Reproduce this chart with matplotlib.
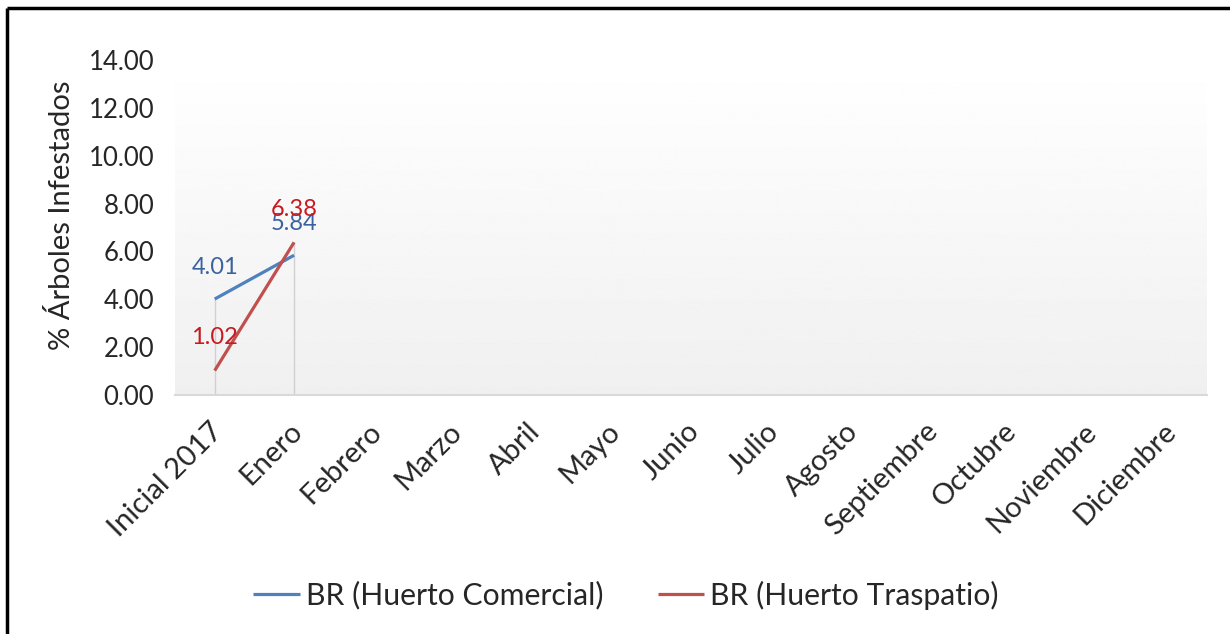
import numpy as np
import matplotlib
matplotlib.use("Agg")
import matplotlib.pyplot as plt
from matplotlib.lines import Line2D
from matplotlib.transforms import ScaledTranslation

categories = ["Inicial 2017", "Enero", "Febrero", "Marzo", "Abril", "Mayo", "Junio",
              "Julio", "Agosto", "Septiembre", "Octubre", "Noviembre", "Diciembre"]
comercial = [4.01, 5.84]
traspatio = [1.02, 6.38]
series_names = ["BR (Huerto Comercial)", "BR (Huerto Traspatio)"]
y_ticks = [0, 2, 4, 6, 8, 10, 12, 14]

plt.rcParams['font.family'] = ['Lato', 'DejaVu Sans']

W, H = 1230, 634
fig = plt.figure(figsize=(W / 100, H / 100), dpi=100)
fig.patch.set_facecolor('white')

# outer frame (top and left visible)
fig.add_artist(Line2D([7 / W, 7 / W], [0, 1 - 8 / H], transform=fig.transFigure,
                      color='black', lw=2.5, solid_capstyle='butt'))
fig.add_artist(Line2D([7 / W, 1], [1 - 8 / H, 1 - 8 / H], transform=fig.transFigure,
                      color='black', lw=2.5, solid_capstyle='butt'))

left, right, top, bottom = 175, 1207, 60, 395
ax = fig.add_axes([left / W, 1 - bottom / H, (right - left) / W, (bottom - top) / H])

# gradient background
grad = np.linspace(1.0, 0.94, 256).reshape(-1, 1)
ax.imshow(grad, extent=[0, 1, 0, 1], transform=ax.transAxes, cmap='gray',
          vmin=0, vmax=1, aspect='auto', zorder=0, interpolation='bilinear')

x = np.arange(len(categories))
n = len(comercial)
tops = [max(a, b) for a, b in zip(comercial, traspatio)]
ax.vlines(x[:n], 0, tops, color='#d0d0d0', lw=1.0, zorder=1)

blue = '#4F81BD'
red = '#C0504D'
ax.plot(x[:n], comercial, color=blue, lw=2.3, zorder=3, label=series_names[0],
        solid_capstyle='butt')
ax.plot(x[:n], traspatio, color=red, lw=2.3, zorder=3, label=series_names[1],
        solid_capstyle='butt')

for xi, v in zip(x[:n], comercial):
    ax.annotate(f"{v:.2f}", (xi, v), xytext=(0, 23), textcoords='offset points',
                ha='center', va='center', fontsize=17, color='#3A62A0', zorder=4)
for xi, v in zip(x[:n], traspatio):
    ax.annotate(f"{v:.2f}", (xi, v), xytext=(0, 24), textcoords='offset points',
                ha='center', va='center', fontsize=17, color='#C8191E', zorder=4)

ax.set_xlim(-0.5, len(categories) - 0.5)
ax.set_ylim(0, 14)
ax.set_yticks(y_ticks)
ax.set_yticklabels([f"{t:.2f}" for t in y_ticks], fontsize=18.5, color='#262626')
ax.set_xticks(x)
ax.set_xticklabels([])
ax.tick_params(axis='y', length=0, pad=15)
ax.tick_params(axis='x', length=0)

# category labels, rotated 45 degrees, anchored at their top-right corner
lbl_trans = ax.get_xaxis_transform() + ScaledTranslation(-5 / 100, -23 / 100, fig.dpi_scale_trans)
for xi, cat in zip(x, categories):
    ax.text(xi, 0, cat, transform=lbl_trans, fontsize=21, color='#262626',
            rotation=45, ha='right', va='top', rotation_mode='anchor', clip_on=False)

for s in ['top', 'right', 'left']:
    ax.spines[s].set_visible(False)
ax.spines['bottom'].set_color('#d9d9d9')
ax.spines['bottom'].set_linewidth(1.5)
ax.spines['bottom'].set_zorder(2)

ax.set_ylabel("% Árboles Infestados", fontsize=21, color='#262626')
ax.yaxis.set_label_coords(-100 / (right - left), 1 - (215 - top) / (bottom - top))

handles, labels = ax.get_legend_handles_labels()
fig.legend(handles, labels, loc='center', bbox_to_anchor=(626 / W, 1 - 595 / H),
           ncol=2, frameon=False, fontsize=21.7, handlelength=1.55,
           handletextpad=0.2, columnspacing=1.8, labelcolor='#262626')

fig.savefig("out.png", dpi=100)
